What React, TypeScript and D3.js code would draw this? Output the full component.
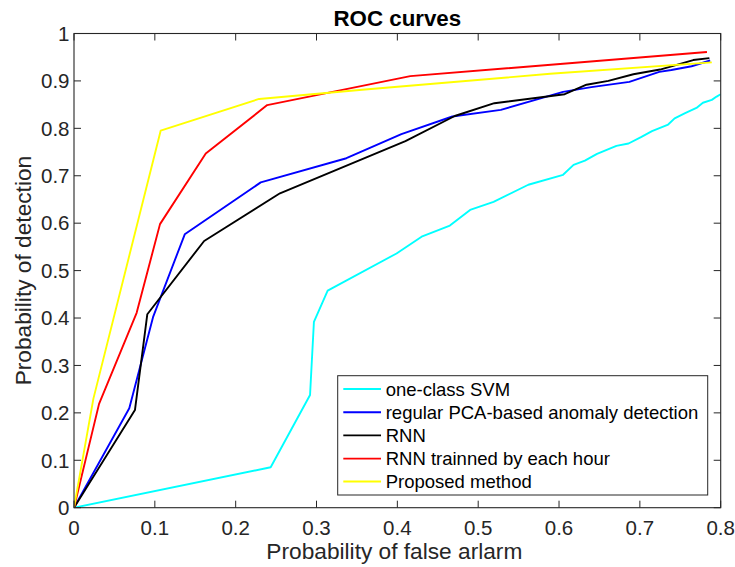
import React from "react";
import * as d3 from "d3";

const xTickValues = [0, 0.1, 0.2, 0.3, 0.4, 0.5, 0.6, 0.7, 0.8];
const xTickLabels = ["0", "0.1", "0.2", "0.3", "0.4", "0.5", "0.6", "0.7", "0.8"];
const yTickValues = [0, 0.1, 0.2, 0.3, 0.4, 0.5, 0.6, 0.7, 0.8, 0.9, 1];
const yTickLabels = ["0", "0.1", "0.2", "0.3", "0.4", "0.5", "0.6", "0.7", "0.8", "0.9", "1"];

const svmPoints: [number, number][] = [
  [0, 0], [0.2433, 0.0852], [0.292, 0.2377], [0.2968, 0.392], [0.3138, 0.4576],
  [0.399, 0.536], [0.43, 0.5715], [0.465, 0.595], [0.49, 0.628], [0.519, 0.645],
  [0.562, 0.681], [0.605, 0.702], [0.618, 0.723], [0.632, 0.732], [0.647, 0.746],
  [0.671, 0.763], [0.686, 0.768], [0.702, 0.782], [0.715, 0.794], [0.735, 0.808],
  [0.743, 0.821], [0.756, 0.832], [0.77, 0.843], [0.778, 0.854], [0.789, 0.86],
  [0.795, 0.867], [0.8, 0.872],
];

const pcaPoints: [number, number][] = [
  [0, 0], [0.0684, 0.2096], [0.098, 0.403], [0.137, 0.5765], [0.231, 0.686],
  [0.337, 0.737], [0.405, 0.788], [0.468, 0.825], [0.528, 0.839], [0.605, 0.877],
  [0.64, 0.887], [0.687, 0.898], [0.724, 0.919], [0.739, 0.923], [0.764, 0.931],
  [0.787, 0.943],
];

const rnnPoints: [number, number][] = [
  [0, 0], [0.0754, 0.206], [0.0907, 0.408], [0.161, 0.5625], [0.2548, 0.663],
  [0.41, 0.773], [0.471, 0.826], [0.52, 0.853], [0.607, 0.872], [0.634, 0.892],
  [0.661, 0.9], [0.692, 0.914], [0.725, 0.924], [0.766, 0.944], [0.786, 0.948],
];

const rnnHourPoints: [number, number][] = [
  [0, 0], [0.031, 0.219], [0.0775, 0.411], [0.1064, 0.598], [0.163, 0.747],
  [0.239, 0.849], [0.416, 0.91], [0.783, 0.961],
];

const proposedPoints: [number, number][] = [
  [0, 0], [0.024, 0.23], [0.1072, 0.795], [0.229, 0.862], [0.36, 0.882],
  [0.589, 0.915], [0.789, 0.939],
];

const seriesNames = [
  "one-class SVM",
  "regular PCA-based anomaly detection",
  "RNN",
  "RNN trainned by each hour",
  "Proposed method",
];
const seriesColors = ["#00ffff", "#0000ff", "#000000", "#ff0000", "#ffff00"];
const seriesData = [svmPoints, pcaPoints, rnnPoints, rnnHourPoints, proposedPoints];

const W = 735;
const H = 567;
const left = 74;
const right = 720.7;
const top = 33.5;
const bottom = 507.7;
const axisColor = "#262626";
const font = "'Liberation Sans', Arial, Helvetica, sans-serif";

export default function App() {
  const x = d3.scaleLinear().domain([0, 0.8]).range([left, right]);
  const y = d3.scaleLinear().domain([0, 1]).range([bottom, top]);
  const line = d3
    .line<[number, number]>()
    .x((d) => x(d[0]))
    .y((d) => y(d[1]));
  const tickLen = 7;

  const legX = 337.7;
  const legY = 375.7;
  const legW = 370;
  const legH = 119.3;
  const rowY = [389, 412.2, 435.4, 458.6, 481.5];

  return (
    <svg
      width={W}
      height={H}
      style={{ position: "absolute", left: 0, top: 0, background: "#fff" }}
      fontFamily={font}
    >
      <rect x={0} y={0} width={W} height={H} fill="#fff" />
      <defs>
        <clipPath id="plotclip">
          <rect x={left} y={top} width={right - left} height={bottom - top} />
        </clipPath>
      </defs>
      <rect x={left} y={top} width={right - left} height={bottom - top} fill="#fff" />

      {/* series */}
      <g clipPath="url(#plotclip)">
        {seriesData.map((pts, i) => (
          <path
            key={i}
            d={line(pts) || ""}
            fill="none"
            stroke={seriesColors[i]}
            strokeWidth={1.9}
            strokeLinejoin="round"
          />
        ))}
      </g>

      {/* ticks */}
      <g stroke={axisColor} strokeWidth={1}>
        {xTickValues.map((v, i) => (
          <g key={"xt" + i}>
            <line x1={x(v)} x2={x(v)} y1={bottom} y2={bottom - tickLen} />
            <line x1={x(v)} x2={x(v)} y1={top} y2={top + tickLen} />
          </g>
        ))}
        {yTickValues.map((v, i) => (
          <g key={"yt" + i}>
            <line x1={left} x2={left + tickLen} y1={y(v)} y2={y(v)} />
            <line x1={right} x2={right - tickLen} y1={y(v)} y2={y(v)} />
          </g>
        ))}
      </g>
      <rect
        x={left}
        y={top}
        width={right - left}
        height={bottom - top}
        fill="none"
        stroke={axisColor}
        strokeWidth={1.1}
      />

      {/* tick labels */}
      <g fill={axisColor} fontSize={20.5}>
        {xTickValues.map((v, i) => (
          <text key={"xl" + i} x={x(v)} y={535} textAnchor="middle">
            {xTickLabels[i]}
          </text>
        ))}
        {yTickValues.map((v, i) => (
          <text key={"yl" + i} x={69.5} y={y(v) + 7.3} textAnchor="end">
            {yTickLabels[i]}
          </text>
        ))}
      </g>

      {/* axis labels */}
      <text
        x={(left + right) / 2 - 3}
        y={559}
        textAnchor="middle"
        fontSize={22.7}
        fill={axisColor}
      >
        Probability of false arlarm
      </text>
      <text
        transform={`translate(31, ${(top + bottom) / 2}) rotate(-90)`}
        textAnchor="middle"
        fontSize={22.7}
        fill={axisColor}
      >
        Probability of detection
      </text>

      {/* title */}
      <text
        x={(left + right) / 2}
        y={26}
        textAnchor="middle"
        fontSize={22.3}
        fontWeight="bold"
        fill="#000"
      >
        ROC curves
      </text>

      {/* legend */}
      <rect x={legX} y={legY} width={legW} height={legH} fill="#fff" stroke={axisColor} strokeWidth={1} />
      {seriesNames.map((name, i) => (
        <g key={"lg" + i}>
          <line
            x1={343.3}
            x2={381}
            y1={rowY[i]}
            y2={rowY[i]}
            stroke={seriesColors[i]}
            strokeWidth={1.9}
          />
          <text x={385.7} y={rowY[i] + 6.6} fontSize={18.5} fill="#000">
            {name}
          </text>
        </g>
      ))}
    </svg>
  );
}
